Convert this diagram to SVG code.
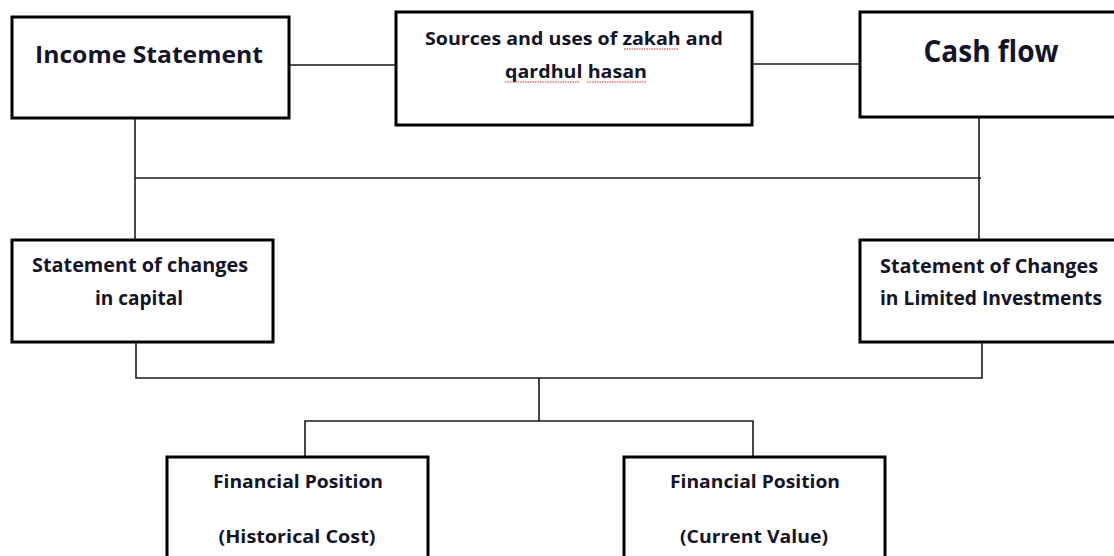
<svg xmlns="http://www.w3.org/2000/svg" width="1114" height="556" viewBox="0 0 1114 556">
<style>
.box{fill:#fff;stroke:#000;stroke-width:3}
.ln{fill:none;stroke:#1a1a1a;stroke-width:1.6}
.t{font-family:"Open Sans","Liberation Sans",sans-serif;font-weight:bold;fill:#141428;text-anchor:middle}
.sq{fill:none;stroke:#e03030;stroke-width:1;stroke-dasharray:1.5 1}
</style>
<rect width="1114" height="556" fill="#fff"/>
<g id="connectors">
<path class="ln" d="M289 65H396"/>
<path class="ln" d="M752 64H860"/>
<path class="ln" d="M135 118V240"/>
<path class="ln" d="M979 117V240"/>
<path class="ln" d="M135 178H981"/>
<path class="ln" d="M136 342V378H982V342"/>
<path class="ln" d="M539 378V421"/>
<path class="ln" d="M305 457V421H753V457"/>
</g>
<g id="income-statement">
<rect class="box" x="12" y="17" width="277" height="101"/>
<text class="t" x="149" y="63" font-size="23" textLength="228" lengthAdjust="spacingAndGlyphs">Income Statement</text>
</g>
<g id="sources-uses">
<rect class="box" x="396" y="12" width="356" height="113"/>
<text class="t" x="574" y="45" font-size="18" textLength="298" lengthAdjust="spacingAndGlyphs">Sources and uses of zakah and</text>
<text class="t" x="576" y="78" font-size="18" textLength="142" lengthAdjust="spacingAndGlyphs">qardhul hasan</text>
<path class="sq" d="M624 49H678"/>
<path class="sq" d="M505 82H580M587 82H647"/>
</g>
<g id="cash-flow">
<rect class="box" x="860" y="12" width="262" height="105"/>
<text class="t" x="991" y="62" font-size="30" textLength="135" lengthAdjust="spacingAndGlyphs">Cash flow</text>
</g>
<g id="changes-capital">
<rect class="box" x="12" y="240" width="261" height="102"/>
<text class="t" x="140" y="272" font-size="20" textLength="216" lengthAdjust="spacingAndGlyphs">Statement of changes</text>
<text class="t" x="139" y="305" font-size="20" textLength="88" lengthAdjust="spacingAndGlyphs">in capital</text>
</g>
<g id="changes-limited">
<rect class="box" x="860" y="240" width="262" height="102"/>
<text class="t" x="989" y="273" font-size="20" textLength="218" lengthAdjust="spacingAndGlyphs">Statement of Changes</text>
<text class="t" x="991" y="305" font-size="20" textLength="222" lengthAdjust="spacingAndGlyphs">in Limited Investments</text>
</g>
<g id="fp-historical">
<rect class="box" x="167" y="457" width="261" height="115"/>
<text class="t" x="298" y="488" font-size="18" textLength="170" lengthAdjust="spacingAndGlyphs">Financial Position</text>
<text class="t" x="297" y="543" font-size="18" textLength="157" lengthAdjust="spacingAndGlyphs">(Historical Cost)</text>
</g>
<g id="fp-current">
<rect class="box" x="624" y="457" width="261" height="115"/>
<text class="t" x="755" y="488" font-size="18" textLength="170" lengthAdjust="spacingAndGlyphs">Financial Position</text>
<text class="t" x="754" y="543" font-size="18" textLength="148" lengthAdjust="spacingAndGlyphs">(Current Value)</text>
</g>
</svg>
